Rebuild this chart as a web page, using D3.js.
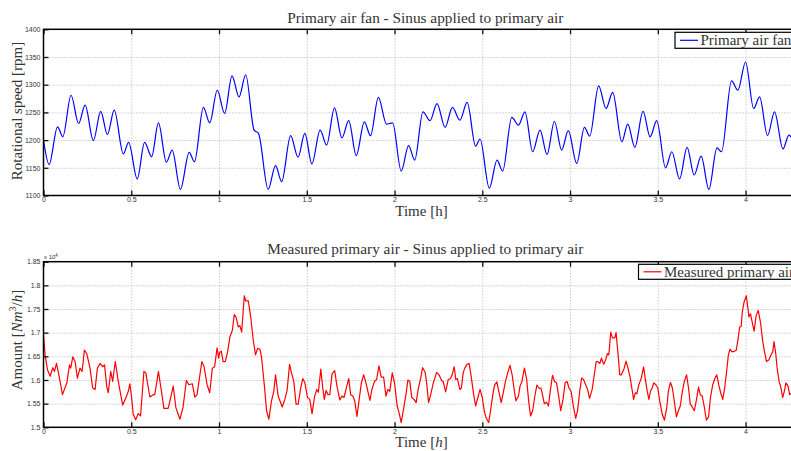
<!DOCTYPE html>
<html><head><meta charset="utf-8">
<script src="https://cdn.jsdelivr.net/npm/d3@7"></script>
<style>body{margin:0;background:#fff;overflow:hidden}svg{display:block}</style>
</head><body><svg id="c" width="791" height="451"></svg>
<script>
// ---------- data ----------
const xTicks = [0, 0.5, 1, 1.5, 2, 2.5, 3, 3.5, 4];
const fanTicks = [1100, 1150, 1200, 1250, 1300, 1350, 1400];
const airTicks = [1.5, 1.55, 1.6, 1.65, 1.7, 1.75, 1.8, 1.85]; // x 10^4

const fanHours = [0,0.032,0.08,0.11,0.157,0.2,0.237,0.284,0.326,0.364,0.403,0.455,0.485,0.534,0.576,0.616,0.655,0.70,0.733,0.78,0.83,0.86,0.911,0.947,0.99,1.032,1.074,1.114,1.152,1.2,1.225,1.28,1.322,1.357,1.408,1.45,1.489,1.529,1.576,1.613,1.658,1.70,1.739,1.782,1.828,1.863,1.908,1.954,1.989,2.038,2.08,2.115,2.162,2.202,2.242,2.288,2.33,2.372,2.414,2.462,2.487,2.54,2.584,2.616,2.668,2.706,2.743,2.787,2.829,2.869,2.911,2.952,2.99,3.038,3.082,3.112,3.163,3.205,3.243,3.295,3.329,3.369,3.416,3.456,3.494,3.544,3.58,3.624,3.667,3.707,3.747,3.791,3.837,3.863,3.92,3.956,4.0,4.046,4.08,4.125,4.165,4.213,4.247,4.27];
const fanRpm = [1200,1156,1224,1206,1281,1230,1263,1199,1252,1210,1254,1175,1196,1130,1196,1170,1231,1160,1182,1111,1178,1161,1259,1231,1290,1248,1316,1278,1318,1218,1212,1111,1154,1125,1208,1169,1212,1157,1218,1191,1258,1204,1235,1172,1233,1208,1277,1229,1231,1144,1190,1164,1251,1235,1266,1223,1259,1236,1268,1189,1202,1113,1164,1144,1241,1227,1251,1179,1218,1174,1234,1182,1217,1158,1223,1207,1298,1257,1286,1197,1229,1187,1252,1206,1235,1150,1179,1130,1187,1137,1171,1111,1186,1179,1307,1290,1341,1257,1278,1208,1251,1184,1209,1200];

const airHours = [0,0.009,0.023,0.038,0.053,0.0625,0.074,0.091,0.108,0.133,0.148,0.155,0.167,0.180,0.193,0.208,0.220,0.233,0.246,0.265,0.280,0.294,0.307,0.322,0.337,0.348,0.360,0.369,0.383,0.394,0.409,0.426,0.451,0.470,0.483,0.492,0.502,0.511,0.525,0.540,0.553,0.572,0.583,0.606,0.625,0.634,0.655,0.672,0.686,0.710,0.725,0.739,0.754,0.777,0.795,0.814,0.828,0.848,0.862,0.875,0.902,0.915,0.932,0.947,0.962,0.975,0.989,0.998,1.004,1.013,1.023,1.036,
1.049,1.062,1.076,1.087,1.097,1.110,1.119,1.129,1.144,1.152,1.167,1.182,1.195,1.208,1.220,1.233,1.242,1.258,1.271,1.284,1.299,1.312,1.322,1.337,1.360,1.375,1.388,1.402,1.413,1.426,1.439,1.451,1.464,1.477,1.489,1.504,1.517,1.530,1.545,1.557,1.566,1.580,1.591,1.600,1.610,1.621,1.631,1.644,1.659,1.672,1.688,1.701,1.712,1.725,1.739,1.750,1.763,1.773,1.786,1.801,1.811,1.824,1.835,1.848,1.860,1.871,1.886,1.898,1.911,1.924,1.938,1.951,1.962,1.973,1.987,2.0,2.015,2.027,2.038,2.053,2.066,2.076,2.087,
2.098,2.111,2.123,2.136,2.149,2.160,2.174,2.183,2.194,2.206,2.221,2.240,2.255,2.268,2.277,2.291,2.306,2.319,2.328,2.340,2.349,2.358,2.372,2.381,2.391,2.400,2.413,2.425,2.438,2.451,2.462,2.475,2.487,2.5,2.511,2.523,2.536,2.547,2.560,2.570,2.583,2.594,2.608,2.621,2.632,2.647,2.658,2.670,2.683,2.692,2.706,2.715,2.726,2.740,2.753,2.764,2.775,2.787,2.798,2.811,2.825,2.834,2.843,2.853,2.866,2.877,2.887,2.900,2.911,2.923,2.934,2.947,2.960,2.972,2.983,2.994,3.006,3.017,3.032,3.043,3.055,3.066,3.077,3.089,3.100,3.111,3.126,3.138,3.149,
3.157,3.170,3.179,3.192,3.204,3.213,3.221,3.232,3.242,3.255,3.262,3.274,3.283,3.292,3.306,3.319,3.330,3.343,3.355,3.362,3.372,3.381,3.392,3.406,3.419,3.428,3.440,3.449,3.458,3.468,3.477,3.489,3.5,3.511,3.525,3.538,3.551,3.560,3.572,3.583,3.594,3.606,3.617,3.628,3.640,3.651,3.664,3.675,3.685,3.696,3.708,3.719,3.732,3.742,3.753,3.764,3.777,3.789,3.800,3.813,3.825,3.836,3.847,3.858,3.870,3.881,3.892,3.902,3.911,3.921,3.934,3.947,3.958,3.966,3.975,3.981,3.991,4.004,4.013,4.019,4.028,4.038,4.049,4.060,4.072,4.085,4.098,4.108,4.119,4.132,4.145,4.155,4.162,4.172,4.179,4.191,4.202,4.211,4.221,4.230,4.242,4.251,4.27];
const airAmount = [1.694,1.653,1.621,1.608,1.626,1.618,1.635,1.604,1.569,1.594,1.632,1.625,1.649,1.639,1.604,1.625,1.618,1.663,1.656,1.625,1.583,1.580,1.625,1.635,1.628,1.632,1.587,1.573,1.618,1.597,1.639,1.597,1.547,1.563,1.576,1.592,1.563,1.528,1.516,1.529,1.524,1.618,1.615,1.564,1.569,1.569,1.618,1.576,1.540,1.540,1.563,1.587,1.542,1.517,1.542,1.599,1.590,1.592,1.564,1.569,1.639,1.628,1.590,1.573,1.625,1.628,1.668,1.646,1.658,1.661,1.639,1.639,
1.660,1.691,1.705,1.738,1.733,1.712,1.715,1.701,1.778,1.767,1.767,1.729,1.684,1.653,1.667,1.665,1.649,1.590,1.535,1.517,1.556,1.576,1.611,1.566,1.543,1.559,1.578,1.633,1.615,1.597,1.549,1.549,1.580,1.603,1.594,1.563,1.559,1.529,1.566,1.580,1.574,1.623,1.583,1.559,1.578,1.569,1.569,1.613,1.620,1.587,1.558,1.566,1.563,1.583,1.603,1.569,1.566,1.556,1.523,1.566,1.594,1.611,1.597,1.576,1.557,1.580,1.597,1.601,1.630,1.606,1.606,1.566,1.580,1.576,1.615,1.594,1.545,1.529,1.510,1.542,1.571,1.600,1.597,
1.563,1.559,1.552,1.583,1.604,1.626,1.617,1.594,1.552,1.569,1.594,1.616,1.610,1.599,1.597,1.575,1.601,1.603,1.611,1.628,1.601,1.603,1.580,1.583,1.615,1.625,1.633,1.635,1.604,1.569,1.545,1.563,1.580,1.563,1.535,1.519,1.510,1.535,1.569,1.589,1.596,1.576,1.552,1.576,1.597,1.618,1.631,1.611,1.576,1.556,1.566,1.587,1.597,1.625,1.601,1.556,1.524,1.535,1.563,1.589,1.582,1.583,1.569,1.550,1.553,1.545,1.576,1.610,1.597,1.594,1.569,1.535,1.559,1.594,1.597,1.583,1.576,1.549,1.519,1.535,1.576,1.604,1.601,1.590,1.580,1.561,1.580,1.611,1.639,
1.639,1.635,1.646,1.633,1.644,1.656,1.653,1.701,1.689,1.689,1.700,1.653,1.611,1.611,1.622,1.640,1.625,1.604,1.576,1.559,1.573,1.571,1.590,1.604,1.628,1.604,1.576,1.559,1.576,1.583,1.594,1.590,1.583,1.556,1.528,1.515,1.542,1.576,1.595,1.583,1.556,1.522,1.535,1.545,1.576,1.597,1.611,1.583,1.549,1.543,1.535,1.556,1.585,1.569,1.566,1.545,1.515,1.522,1.563,1.590,1.603,1.611,1.590,1.573,1.559,1.583,1.618,1.653,1.665,1.660,1.660,1.663,1.688,1.712,1.713,1.743,1.764,1.778,1.753,1.733,1.740,1.722,1.703,1.736,1.747,1.722,1.681,1.660,1.639,1.642,1.653,1.660,1.681,1.656,1.628,1.597,1.583,1.563,1.576,1.594,1.587,1.569,1.575];

// ---------- layout ----------
const svg = d3.select("#c");
const X0 = 43.5, X1 = 807;
const x = d3.scaleLinear().domain([0, 4.35]).range([X0, X1]);
const serif = "'Liberation Serif','Times New Roman',serif";
const sans = "'Liberation Sans',Arial,sans-serif";

const panels = [
  {top: 29.3, bottom: 195.5, dom: [1100, 1400], ticks: fanTicks, xs: fanHours, ys: fanRpm,
   color: "#0000ff", curve: d3.curveMonotoneX,
   title: "Primary air fan - Sinus applied to primary air", titleY: 22.5,
   legend: "Primary air fan", legX: 675, legY: 32.3, legH: 16, xlabY: 216},
  {top: 261.7, bottom: 427.3, dom: [1.5, 1.85], ticks: airTicks, xs: airHours, ys: airAmount,
   color: "#ff0000", curve: d3.curveLinear,
   title: "Measured primary air - Sinus applied to primary air", titleY: 254.3,
   legend: "Measured primary air", legX: 638.5, legY: 264.3, legH: 15, xlabY: 447}
];

panels.forEach((p, i) => {
  const y = d3.scaleLinear().domain(p.dom).range([p.bottom, p.top]);
  const g = svg.append("g");
  const ph = p.bottom - p.top;

  // grid (dotted)
  g.append("g").attr("transform", `translate(0,${p.bottom})`)
    .call(d3.axisBottom(x).tickValues(xTicks.filter(d => d > 0)).tickSize(-ph).tickFormat(""))
    .call(s => s.select(".domain").remove())
    .call(s => s.selectAll("line").attr("stroke", "#b0b0b0").attr("stroke-width", 1).attr("stroke-dasharray", "1,2"));
  g.append("g").attr("transform", `translate(${X0},0)`)
    .call(d3.axisLeft(y).tickValues(p.ticks.slice(1, -1)).tickSize(-(X1 - X0)).tickFormat(""))
    .call(s => s.select(".domain").remove())
    .call(s => s.selectAll("line").attr("stroke", "#b0b0b0").attr("stroke-width", 1).attr("stroke-dasharray", "1,2"));

  // clip + line
  const cid = "clip" + i;
  svg.append("clipPath").attr("id", cid).append("rect")
    .attr("x", X0).attr("y", p.top).attr("width", X1 - X0).attr("height", ph);
  const data = p.xs.map((t, k) => [t, p.ys[k]]);
  g.append("path").datum(data).attr("clip-path", `url(#${cid})`)
    .attr("fill", "none").attr("stroke", p.color).attr("stroke-width", 1.2)
    .attr("stroke-linejoin", "round")
    .attr("d", d3.line().x(d => x(d[0])).y(d => y(d[1])).curve(p.curve));

  // axes with inward ticks
  const styleAxis = s => {
    s.select(".domain").remove();
    s.selectAll(".tick line").attr("stroke", "#111").attr("stroke-width", 1.3);
    s.selectAll("text").attr("font-family", sans).attr("font-size", 7).attr("fill", "#333");
  };
  g.append("g").attr("transform", `translate(0,${p.bottom})`)
    .call(d3.axisBottom(x).tickValues(xTicks).tickSize(-5).tickPadding(2).tickFormat(d => String(d)))
    .call(styleAxis);
  g.append("g").attr("transform", `translate(0,${p.top})`)
    .call(d3.axisTop(x).tickValues(xTicks).tickSize(-5).tickFormat(""))
    .call(styleAxis);
  g.append("g").attr("transform", `translate(${X0},0)`)
    .call(d3.axisLeft(y).tickValues(p.ticks).tickSize(-5).tickPadding(3).tickFormat(d => String(d)))
    .call(styleAxis);

  // frame
  g.append("rect").attr("x", X0).attr("y", p.top).attr("width", X1 - X0).attr("height", ph)
    .attr("fill", "none").attr("stroke", "#000").attr("stroke-width", 1.5);

  // title
  g.append("text").attr("x", (X0 + X1) / 2).attr("y", p.titleY).attr("text-anchor", "middle")
    .attr("font-family", serif).attr("font-size", 15.3).attr("fill", "#333").text(p.title);

  // x label
  const xl = g.append("text").attr("x", 421.5).attr("y", p.xlabY).attr("text-anchor", "middle")
    .attr("font-family", serif).attr("font-size", 15).attr("fill", "#333");
  xl.append("tspan").text("Time [");
  xl.append("tspan").attr("font-style", i === 1 ? "italic" : "normal").text("h");
  xl.append("tspan").text("]");

  // legend
  g.append("rect").attr("x", p.legX).attr("y", p.legY).attr("width", 200).attr("height", p.legH)
    .attr("fill", "#fff").attr("stroke", "#000").attr("stroke-width", 1.2);
  const ly = p.legY + p.legH / 2;
  g.append("line").attr("x1", p.legX + 5).attr("x2", p.legX + 23).attr("y1", ly).attr("y2", ly)
    .attr("stroke", p.color).attr("stroke-width", 1.2);
  g.append("text").attr("x", p.legX + 25.5).attr("y", ly + 5)
    .attr("font-family", serif).attr("font-size", 15).attr("fill", "#333").text(p.legend);
});

// y labels
svg.append("text").attr("transform", "translate(21.5,111) rotate(-90)").attr("text-anchor", "middle")
  .attr("font-family", serif).attr("font-size", 15).attr("fill", "#333").text("Rotational speed [rpm]");
const yl2 = svg.append("text").attr("transform", "translate(21.5,340) rotate(-90)").attr("text-anchor", "middle")
  .attr("font-family", serif).attr("font-size", 15).attr("fill", "#333");
yl2.append("tspan").text("Amount [");
yl2.append("tspan").attr("font-style", "italic").text("Nm");
yl2.append("tspan").attr("font-size", 10).attr("dy", -6).text("3");
yl2.append("tspan").attr("dy", 6).text("/");
yl2.append("tspan").attr("font-style", "italic").text("h");
yl2.append("tspan").text("]");

// exponent label
const ex = svg.append("text").attr("x", 44).attr("y", 259).attr("font-family", sans)
  .attr("font-size", 6).attr("fill", "#333");
ex.append("tspan").text("x 10");
ex.append("tspan").attr("font-size", 4.5).attr("dy", -2.5).text("4");
</script></body></html>
